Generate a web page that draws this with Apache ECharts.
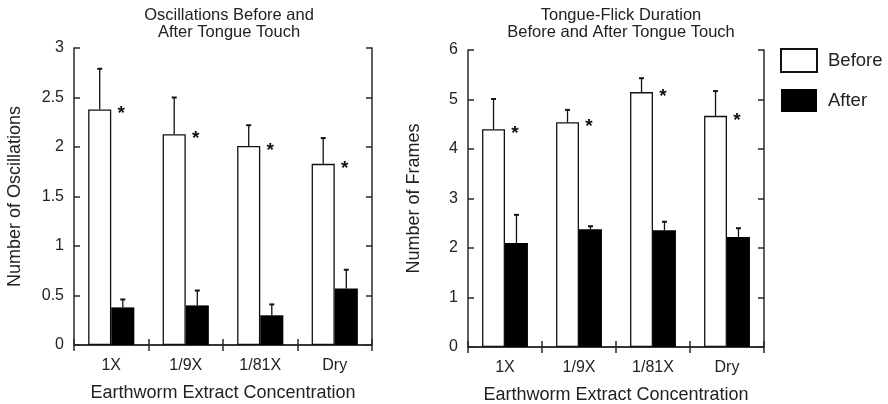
<!DOCTYPE html>
<html>
<head>
<meta charset="utf-8">
<script src="https://cdn.jsdelivr.net/npm/echarts@6/dist/echarts.min.js"></script>
<style>html,body{margin:0;padding:0;background:#fff}#c{width:888px;height:404px}</style>
</head>
<body>
<div id="c"></div>
<script>
const categories = ['1X', '1/9X', '1/81X', 'Dry'];
const oscBefore = [2.38, 2.13, 2.01, 1.83];
const oscBeforeErr = [0.41, 0.37, 0.21, 0.26];
const oscAfter = [0.38, 0.40, 0.30, 0.57];
const oscAfterErr = [0.08, 0.15, 0.11, 0.19];
const frmBefore = [4.40, 4.54, 5.15, 4.67];
const frmBeforeErr = [0.61, 0.25, 0.28, 0.50];
const frmAfter = [2.10, 2.38, 2.36, 2.22];
const frmAfterErr = [0.57, 0.06, 0.17, 0.18];
const oscTicks = { min: 0, max: 3, interval: 0.5 };
const frmTicks = { min: 0, max: 6, interval: 1 };

const FONT = 'Liberation Sans';
const BAR_FRAC = 0.31;
const AX = '#2a2a2a';

function errData(vals, errs, side) {
  return vals.map((v, i) => [i, v, errs[i], side]);
}
function errSeries(name, xi, yi, vals, errs, side) {
  return {
    type: 'custom', name: name, xAxisIndex: xi, yAxisIndex: yi, silent: true, z: 5,
    data: errData(vals, errs, side),
    encode: { x: 0, y: 1 },
    renderItem: function (params, api) {
      const idx = api.value(0), v = api.value(1), e = api.value(2), side = api.value(3);
      const band = api.size([1, 0])[0];
      const w = band * BAR_FRAC;
      const b = api.coord([idx, v]);
      const t = api.coord([idx, v + e]);
      const x = b[0] + side * w / 2;
      const st = { stroke: '#111', lineWidth: 1.3 };
      return { type: 'group', children: [
        { type: 'line', shape: { x1: x, y1: b[1], x2: x, y2: t[1] }, style: st },
        { type: 'line', shape: { x1: x - 2.5, y1: t[1], x2: x + 2.5, y2: t[1] }, style: { stroke: '#111', lineWidth: 2 } }
      ]};
    }
  };
}
function starSeries(xi, yi, vals) {
  return {
    type: 'custom', name: 'sig', xAxisIndex: xi, yAxisIndex: yi, silent: true, z: 6,
    data: vals.map((v, i) => [i, v]),
    encode: { x: 0, y: 1 },
    renderItem: function (params, api) {
      const b = api.coord([api.value(0), api.value(1)]);
      return { type: 'text', style: { text: '*', x: b[0] + 10, y: b[1] - 5, fill: '#111',
        font: 'bold 19px ' + FONT, textAlign: 'center', textVerticalAlign: 'top' } };
    }
  };
}
function catAxis(gi, pos, name) {
  return {
    type: 'category', gridIndex: gi, position: pos, data: categories, boundaryGap: true,
    name: name || '', nameLocation: 'middle', nameGap: 39,
    nameTextStyle: { fontFamily: FONT, fontSize: 18, color: '#222' },
    axisLine: { lineStyle: { color: AX, width: 1.5 } },
    axisTick: { show: true, inside: true, length: 6, lineStyle: { color: AX, width: 1.5 } },
    axisLabel: { show: pos === 'bottom', margin: 13, fontFamily: FONT, fontSize: 16, color: '#222' }
  };
}
function valAxis(gi, pos, t, name, gap) {
  return {
    type: 'value', gridIndex: gi, position: pos, min: t.min, max: t.max, interval: t.interval,
    name: name || '', nameLocation: 'middle', nameGap: gap || 50,
    nameTextStyle: { fontFamily: FONT, fontSize: 18, color: '#222' },
    splitLine: { show: false },
    axisLine: { show: true, lineStyle: { color: AX, width: 1.5 } },
    axisTick: { show: true, inside: true, length: 6, lineStyle: { color: AX, width: 1.5 } },
    axisLabel: { show: pos === 'left', margin: 10, fontFamily: FONT, fontSize: 16, color: '#222' }
  };
}
function barSeries(name, xi, yi, vals) {
  const before = name === 'Before';
  return {
    type: 'bar', name: name, xAxisIndex: xi, yAxisIndex: yi, data: vals,
    barWidth: (BAR_FRAC * 100) + '%', barGap: '0%',
    itemStyle: { color: before ? '#fff' : '#000', borderColor: '#111', borderWidth: before ? 1.3 : 0 }
  };
}

const chart = echarts.init(document.getElementById('c'), null, { renderer: 'canvas' });
chart.setOption({
  animation: false,
  backgroundColor: '#fff',
  textStyle: { fontFamily: FONT },
  title: [
    { text: 'Oscillations Before and\nAfter Tongue Touch', left: 224, top: 2, textAlign: 'center',
      textStyle: { fontFamily: FONT, fontSize: 16.5, fontWeight: 'normal', color: '#222', lineHeight: 17 } },
    { text: 'Tongue-Flick Duration\nBefore and After Tongue Touch', left: 616, top: 2, textAlign: 'center',
      textStyle: { fontFamily: FONT, fontSize: 16.5, fontWeight: 'normal', color: '#222', lineHeight: 17 } }
  ],
  legend: {
    data: ['Before', 'After'], orient: 'vertical', left: 775, top: 43,
    itemWidth: 36, itemHeight: 23, itemGap: 16, icon: 'rect',
    textStyle: { fontFamily: FONT, fontSize: 18.5, color: '#222', padding: [0, 0, 0, 6] }
  },
  grid: [
    { left: 74, top: 48, width: 298, height: 297, containLabel: false, outerBoundsMode: 'none' },
    { left: 468, top: 50, width: 296, height: 297, containLabel: false, outerBoundsMode: 'none' }
  ],
  xAxis: [
    catAxis(0, 'bottom', 'Earthworm Extract Concentration'),
    catAxis(0, 'top'),
    catAxis(1, 'bottom', 'Earthworm Extract Concentration'),
    catAxis(1, 'top')
  ],
  yAxis: [
    valAxis(0, 'left', oscTicks, 'Number of Oscillations', 50),
    valAxis(0, 'right', oscTicks),
    valAxis(1, 'left', frmTicks, 'Number of Frames', 45),
    valAxis(1, 'right', frmTicks)
  ],
  series: [
    barSeries('Before', 0, 0, oscBefore),
    barSeries('After', 0, 0, oscAfter),
    errSeries('e1', 0, 0, oscBefore, oscBeforeErr, -1),
    errSeries('e2', 0, 0, oscAfter, oscAfterErr, 1),
    starSeries(0, 0, oscBefore),
    barSeries('Before', 2, 2, frmBefore),
    barSeries('After', 2, 2, frmAfter),
    errSeries('e3', 2, 2, frmBefore, frmBeforeErr, -1),
    errSeries('e4', 2, 2, frmAfter, frmAfterErr, 1),
    starSeries(2, 2, frmBefore)
  ]
});
</script>
</body>
</html>
